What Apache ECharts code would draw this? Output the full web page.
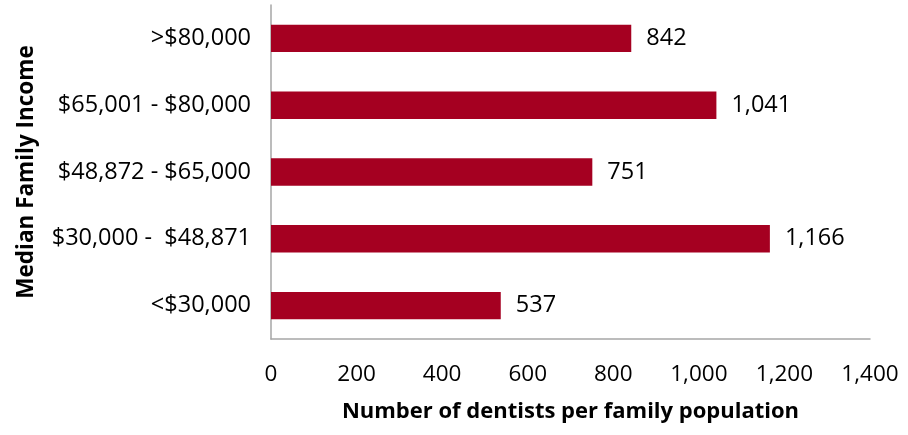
<!DOCTYPE html>
<html><head><meta charset="utf-8">
<script src="https://cdn.jsdelivr.net/npm/echarts@6/dist/echarts.min.js"></script>
<style>html,body{margin:0;padding:0;background:#fff}#c{width:908px;height:435px}</style>
</head><body><div id="c"></div>
<script>
const categories = ['<$30,000', '$30,000 -  $48,871', '$48,872 - $65,000', '$65,001 - $80,000', '>$80,000'];
const values = [537, 1166, 751, 1041, 842];
const xTicks = { min: 0, max: 1400, interval: 200 };
const xTitle = 'Number of dentists per family population';
const yTitle = 'Median Family Income';

const font = '"Open Sans", "Noto Sans", sans-serif';
const chart = echarts.init(document.getElementById('c'));
chart.setOption({
  animation: false,
  grid: { left: 271, right: 38, top: 5, bottom: 96, containLabel: false },
  xAxis: {
    type: 'value', min: xTicks.min, max: xTicks.max, interval: xTicks.interval,
    splitLine: { show: false },
    axisLine: { show: true, lineStyle: { color: '#a6a6a6', width: 1.5 } },
    axisTick: { show: false },
    axisLabel: { color: '#000', fontSize: 22.5, fontFamily: font, margin: 24,
      formatter: v => v.toLocaleString('en-US') },
    name: xTitle, nameLocation: 'middle', nameGap: 62,
    nameTextStyle: { color: '#000', fontSize: 22, fontWeight: 'bold', fontFamily: font }
  },
  yAxis: {
    type: 'category', data: categories,
    axisLine: { show: true, lineStyle: { color: '#a6a6a6', width: 1.5 } },
    axisTick: { show: false },
    axisLabel: { color: '#000', fontSize: 23.5, fontFamily: font, margin: 20 },
    name: yTitle, nameLocation: 'middle', nameGap: 233, nameRotate: 90,
    nameTextStyle: { color: '#000', fontSize: 22.5, fontWeight: 'bold', fontFamily: font }
  },
  series: [{
    type: 'bar', data: values, barCategoryGap: '59%',
    itemStyle: { color: '#a50021' },
    label: { show: true, position: 'right', distance: 15, color: '#000', fontSize: 23.5, fontFamily: font,
      formatter: p => p.value.toLocaleString('en-US') }
  }]
});
</script></body></html>
